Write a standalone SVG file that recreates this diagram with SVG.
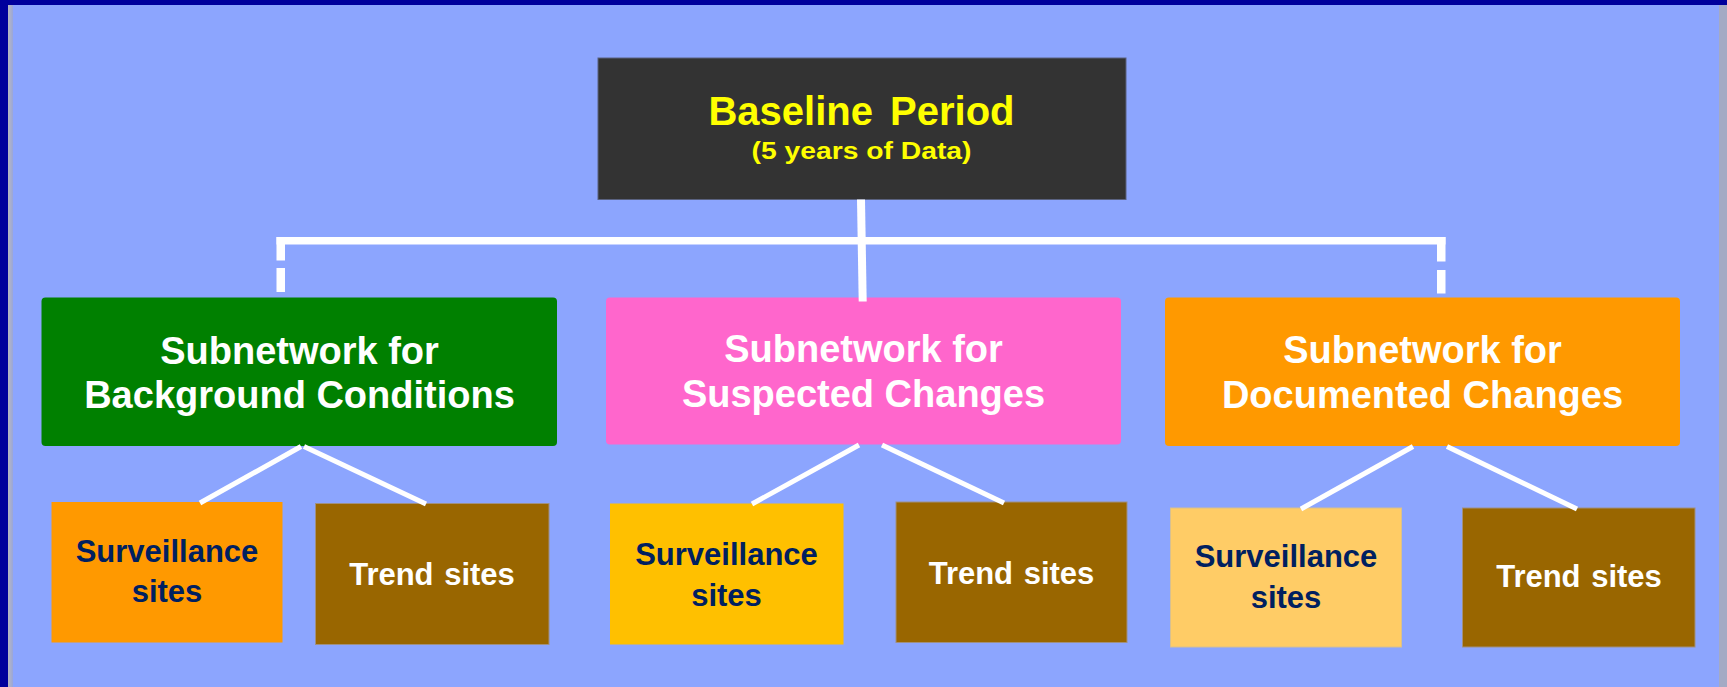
<svg xmlns="http://www.w3.org/2000/svg" width="1727" height="687" viewBox="0 0 1727 687">
<style>
.t{font-family:"Liberation Sans",Arial,sans-serif;font-weight:bold;text-anchor:middle}
.sub{font-size:38px;fill:#FFFFFF}
.sv{font-size:31px;fill:#002060}
.tr{font-size:31px;fill:#FFFFFF;word-spacing:2px}
.bar{fill:#FFFFFF}
.diag{stroke:#FFFFFF;stroke-width:5;fill:none}
</style>
<defs>
<linearGradient id="edge" x1="0" y1="0" x2="1" y2="0">
<stop offset="0" stop-color="#B8B8C0"/>
<stop offset="1" stop-color="#9AA6D8"/>
</linearGradient>
</defs>
<g id="background">
<rect x="0" y="0" width="1727" height="687" fill="#8CA5FE"/>
<rect x="0" y="0" width="1727" height="5" fill="#00009C"/>
<rect x="0" y="0" width="8" height="687" fill="#00009C"/>
<rect x="8" y="5" width="5" height="682" fill="url(#edge)"/>
<rect x="1719" y="5" width="8" height="682" fill="#A4AAC4"/>
</g>
<g id="baseline">
<rect x="598" y="58" width="528" height="141.5" fill="#333333" stroke="#5A6280" stroke-width="1"/>
<text class="t" x="861.5" y="125" font-size="40" fill="#FFFF00" word-spacing="6">Baseline Period</text>
<text class="t" x="861.5" y="159" font-size="24" fill="#FFFF00" textLength="220" lengthAdjust="spacingAndGlyphs">(5 years of Data)</text>
</g>
<g id="sub-background">
<rect x="41.5" y="297.5" width="515.5" height="148.5" rx="4" fill="#008000"/>
<text class="t sub" x="299.5" y="364">Subnetwork for</text>
<text class="t sub" x="299.5" y="408">Background Conditions</text>
</g>
<g id="sub-suspected">
<rect x="606" y="297.5" width="515" height="147" rx="4" fill="#FF66CC"/>
<text class="t sub" x="863.5" y="362">Subnetwork for</text>
<text class="t sub" x="863.5" y="407">Suspected Changes</text>
</g>
<g id="sub-documented">
<rect x="1165" y="297.5" width="515" height="148.5" rx="4" fill="#FF9900"/>
<text class="t sub" x="1422.5" y="363">Subnetwork for</text>
<text class="t sub" x="1422.5" y="408">Documented Changes</text>
</g>
<g id="surv-background">
<rect x="51.5" y="502" width="231" height="140.5" fill="#FF9900"/>
<text class="t sv" x="167" y="561.5">Surveillance</text>
<text class="t sv" x="167" y="601.5">sites</text>
</g>
<g id="trend-background">
<rect x="315.5" y="503.5" width="233.5" height="141" fill="#996600" stroke="#A09080" stroke-width="1"/>
<text class="t tr" x="432" y="585">Trend sites</text>
</g>
<g id="surv-suspected">
<rect x="610" y="503.5" width="233.5" height="141" fill="#FFC000"/>
<text class="t sv" x="726.5" y="565">Surveillance</text>
<text class="t sv" x="726.5" y="605.5">sites</text>
</g>
<g id="trend-suspected">
<rect x="896" y="502" width="231" height="140.5" fill="#996600" stroke="#A09080" stroke-width="1"/>
<text class="t tr" x="1011.5" y="583.5">Trend sites</text>
</g>
<g id="surv-documented">
<rect x="1170.5" y="508" width="231" height="139" fill="#FFCC66" stroke="#D8C090" stroke-width="1"/>
<text class="t sv" x="1286" y="566.5">Surveillance</text>
<text class="t sv" x="1286" y="608">sites</text>
</g>
<g id="trend-documented">
<rect x="1462.5" y="508" width="232.5" height="139" fill="#996600" stroke="#A09080" stroke-width="1"/>
<text class="t tr" x="1579" y="586.5">Trend sites</text>
</g>
<g id="connectors">
<path d="M861 199.5 L862.7 301.5" stroke="#FFFFFF" stroke-width="8" fill="none"/>
<rect class="bar" x="276.5" y="237" width="1169" height="7.5"/>
<rect class="bar" x="276.5" y="237" width="8.5" height="23.5"/>
<rect class="bar" x="276.5" y="268" width="8.5" height="24"/>
<rect class="bar" x="1437" y="237" width="8.5" height="24.5"/>
<rect class="bar" x="1437" y="270" width="8.5" height="23.5"/>
<line class="diag" x1="301" y1="446.5" x2="200" y2="503"/>
<line class="diag" x1="304" y1="446.5" x2="426" y2="504"/>
<line class="diag" x1="859" y1="445" x2="752" y2="504"/>
<line class="diag" x1="882" y1="445" x2="1004" y2="503"/>
<line class="diag" x1="1413" y1="446.5" x2="1301" y2="509"/>
<line class="diag" x1="1447" y1="446.5" x2="1577" y2="509"/>
</g>
</svg>
